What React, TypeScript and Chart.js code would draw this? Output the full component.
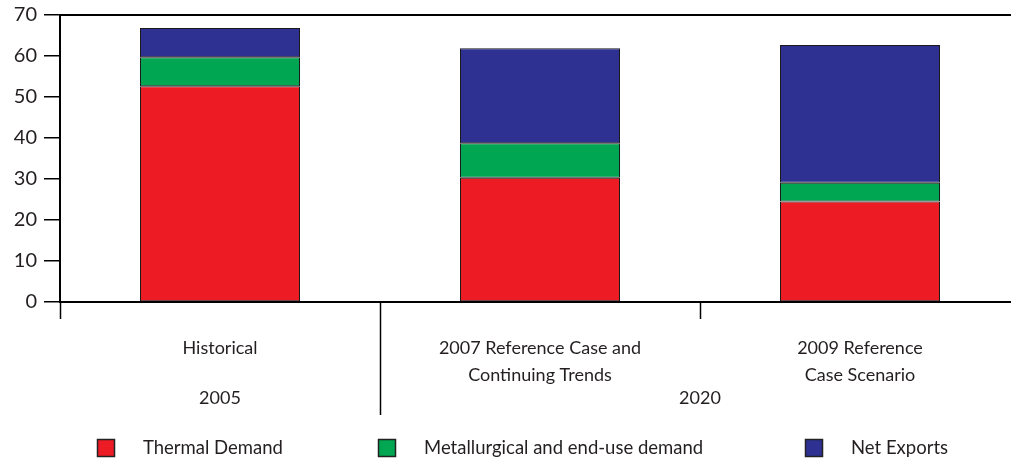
import React, { useEffect, useRef } from "react";
import { Chart, registerables } from "chart.js";
Chart.register(...registerables);

const categories: string[][] = [
  ["Historical"],
  ["2007 Reference Case and", "Continuing Trends"],
  ["2009 Reference", "Case Scenario"],
];
const groupLabels = ["2005", "2020"];
const groupStart = [0, 1];
const groupEnd = [0, 2];
const thermal = [52.6, 30.3, 24.5];
const metallurgical = [7.1, 8.4, 4.6];
const netExports = [7.1, 23.2, 33.6];
const seriesNames = ["Thermal Demand", "Metallurgical and end-use demand", "Net Exports"];
const seriesColors = ["#ED1C24", "#00A651", "#2E3192"];

const FONT = "Lato, 'Open Sans', sans-serif";
const TEXT = "#231f20";

const overlay = {
  id: "overlay",
  afterDraw(chart: any) {
    const ctx = chart.ctx as CanvasRenderingContext2D;
    const x = chart.scales.x;
    const area = chart.chartArea;
    const n = categories.length;
    const w = (x.right - x.left) / n;
    ctx.save();
    // top border line
    ctx.strokeStyle = "#000";
    ctx.lineWidth = 2;
    ctx.beginPath();
    ctx.moveTo(area.left - 1, area.top);
    ctx.lineTo(area.right, area.top);
    ctx.stroke();
    // dividers
    ctx.lineWidth = 1.5;
    for (let i = 0; i < n; i++) {
      const px = Math.round(x.getPixelForValue(i) - w / 2) + 0.5;
      const isInteriorGroup = i > 0 && groupStart.includes(i);
      ctx.beginPath();
      ctx.moveTo(px, area.bottom);
      ctx.lineTo(px, area.bottom + (isInteriorGroup ? 113 : 17));
      ctx.stroke();
    }
    // category labels
    ctx.fillStyle = TEXT;
    ctx.font = `18px ${FONT}`;
    ctx.textAlign = "center";
    ctx.textBaseline = "middle";
    categories.forEach((lines, i) => {
      const cx = x.getPixelForValue(i);
      lines.forEach((ln, j) => ctx.fillText(ln, cx, area.bottom + 46 + j * 27));
    });
    // group labels
    groupLabels.forEach((g, k) => {
      const cx = (x.getPixelForValue(groupStart[k]) + x.getPixelForValue(groupEnd[k])) / 2;
      ctx.fillText(g, cx, area.bottom + 96);
    });
    // legend
    const starts = [97, 378, 805];
    ctx.textAlign = "left";
    ctx.font = `18.5px ${FONT}`;
    chart.data.datasets.forEach((ds: any, i: number) => {
      const sx = starts[i];
      const cy = 448;
      ctx.fillStyle = ds.backgroundColor;
      ctx.fillRect(sx, cy - 9, 18, 18);
      ctx.strokeStyle = "#222";
      ctx.lineWidth = 1.5;
      ctx.strokeRect(sx + 0.5, cy - 8.5, 17, 17);
      ctx.fillStyle = TEXT;
      ctx.fillText(ds.label, sx + 46, cy);
    });
    ctx.restore();
  },
};

export default function App() {
  const ref = useRef<HTMLCanvasElement>(null);
  useEffect(() => {
    if (!ref.current) return;
    const chart = new Chart(ref.current, {
      type: "bar",
      data: {
        labels: categories.map((c) => c.join(" ")),
        datasets: [thermal, metallurgical, netExports].map((d, i) => ({
          label: seriesNames[i],
          data: d,
          backgroundColor: seriesColors[i],
          borderColor: "#1a1a1a",
          borderWidth: 1,
          borderSkipped: false,
          barPercentage: 0.5,
          categoryPercentage: 1,
        })),
      },
      options: {
        responsive: false,
        animation: false,
        layout: { padding: { top: 15, left: 0, right: 0, bottom: 0 } },
        plugins: { legend: { display: false }, tooltip: { enabled: false } },
        scales: {
          x: {
            stacked: true,
            grid: { display: false },
            ticks: { display: false },
            border: { display: true, color: "#000", width: 2 },
            afterFit: (s: any) => {
              s.height = 160;
              s.paddingLeft = 0;
              s.paddingRight = 0;
            },
          },
          y: {
            stacked: true,
            min: 0,
            max: 70,
            ticks: { stepSize: 10, color: TEXT, font: { family: FONT, size: 20 }, padding: 7 },
            grid: { drawOnChartArea: false, drawTicks: true, tickLength: 16, color: "#000", lineWidth: 1.5 },
            border: { display: true, color: "#000", width: 2 },
            afterFit: (s: any) => {
              s.width = 60;
              s.paddingTop = 0;
              s.paddingBottom = 0;
            },
          },
        },
      },
      plugins: [overlay],
    });
    return () => chart.destroy();
  }, []);
  return (
    <div style={{ position: "fixed", left: 0, top: 0, width: 1011, height: 462, overflow: "hidden", background: "#fff" }}>
      <canvas ref={ref} width={1020} height={462} style={{ display: "block" }} />
    </div>
  );
}
